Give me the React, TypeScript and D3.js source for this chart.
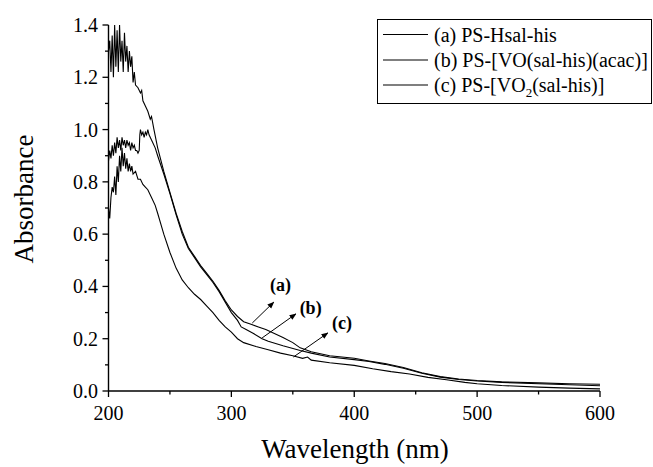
import React from "react";
import * as d3 from "d3";

// wavelength (nm) / absorbance
const wlA = [200, 201, 202, 203, 204, 205, 206, 207, 208, 209, 210, 211, 212, 213, 214, 215, 216, 217, 218, 219, 220, 221, 222, 224, 226, 227, 228, 230, 232, 234, 235, 237, 240, 245, 250, 255, 260, 265, 270, 275, 280, 285, 290, 295, 300, 305, 310, 316, 322, 328, 335, 342, 350, 356, 365, 380, 400, 412, 425, 440, 455, 470, 485, 500, 520, 550, 575, 600];
const absA = [1.30, 1.34, 1.22, 1.36, 1.20, 1.40, 1.24, 1.38, 1.22, 1.40, 1.26, 1.34, 1.22, 1.37, 1.26, 1.32, 1.22, 1.30, 1.24, 1.28, 1.18, 1.22, 1.17, 1.16, 1.14, 1.15, 1.11, 1.09, 1.07, 1.04, 1.05, 1.00, 0.93, 0.84, 0.76, 0.68, 0.61, 0.55, 0.515, 0.48, 0.45, 0.42, 0.385, 0.345, 0.31, 0.285, 0.265, 0.255, 0.245, 0.235, 0.22, 0.205, 0.185, 0.165, 0.15, 0.135, 0.125, 0.115, 0.105, 0.09, 0.07, 0.055, 0.046, 0.04, 0.035, 0.031, 0.028, 0.026];

const wlB = [200, 201, 202, 203, 204, 205, 206, 207, 208, 209, 210, 211, 212, 213, 214, 215, 216, 217, 218, 219, 220, 221, 222, 223, 224, 225, 225.5, 226, 227, 228, 229, 230, 231, 232, 233, 235, 238, 240, 245, 250, 255, 260, 265, 270, 275, 280, 285, 290, 295, 300, 305, 308, 312, 318, 325, 330, 342, 356, 365, 380, 400, 412, 425, 440, 455, 470, 485, 500, 520, 550, 575, 600];
const absB = [0.88, 0.92, 0.89, 0.94, 0.90, 0.95, 0.91, 0.97, 0.93, 0.96, 0.92, 0.97, 0.94, 0.96, 0.93, 0.96, 0.94, 0.95, 0.92, 0.95, 0.93, 0.94, 0.92, 0.92, 0.91, 0.92, 0.98, 1.0, 0.98, 0.99, 0.97, 0.99, 0.98, 1.0, 0.98, 0.96, 0.93, 0.90, 0.83, 0.755, 0.675, 0.60, 0.545, 0.51, 0.475, 0.445, 0.415, 0.38, 0.34, 0.30, 0.27, 0.245, 0.235, 0.22, 0.20, 0.19, 0.173, 0.155, 0.145, 0.13, 0.12, 0.113, 0.102, 0.087, 0.068, 0.053, 0.044, 0.038, 0.033, 0.028, 0.024, 0.020];

const wlC = [200, 201, 202, 203, 204, 205, 206, 207, 208, 209, 210, 211, 212, 213, 214, 215, 216, 217, 218, 219, 220, 222, 224, 226, 228, 230, 232, 235, 238, 240, 245, 250, 255, 260, 265, 270, 275, 280, 285, 290, 295, 300, 305, 310, 320, 330, 340, 350, 358, 362, 365, 380, 400, 415, 430, 445, 460, 475, 490, 500, 520, 550, 575, 600];
const absC = [0.70, 0.66, 0.74, 0.78, 0.76, 0.82, 0.75, 0.86, 0.80, 0.90, 0.84, 0.93, 0.86, 0.91, 0.85, 0.89, 0.84, 0.87, 0.84, 0.86, 0.83, 0.84, 0.81, 0.81, 0.79, 0.78, 0.77, 0.74, 0.71, 0.68, 0.60, 0.53, 0.47, 0.425, 0.395, 0.37, 0.35, 0.325, 0.30, 0.27, 0.245, 0.225, 0.20, 0.185, 0.17, 0.158, 0.145, 0.135, 0.125, 0.13, 0.118, 0.108, 0.098, 0.085, 0.074, 0.065, 0.052, 0.043, 0.033, 0.028, 0.021, 0.015, 0.011, 0.008];

const xTicks = [200, 300, 400, 500, 600];
const xMinor = [250, 350, 450, 550];
const yTicks = [0, 0.2, 0.4, 0.6, 0.8, 1.0, 1.2, 1.4];
const yMinor = [0.1, 0.3, 0.5, 0.7, 0.9, 1.1, 1.3];

// label text position and arrow (from -> to), data coords
const notes = [
  { label: "(a)", tx: 340, ty: 0.405, x1: 317, y1: 0.26, x2: 334.5, y2: 0.34 },
  { label: "(b)", tx: 364.5, ty: 0.317, x1: 325, y1: 0.203, x2: 352.5, y2: 0.295 },
  { label: "(c)", tx: 390, ty: 0.26, x1: 350.5, y1: 0.13, x2: 378.5, y2: 0.222 },
];

const font = "'Liberation Serif', 'Times New Roman', serif";

export default function App() {
  const width = 653;
  const height = 467;

  const x = d3.scaleLinear().domain([200, 600]).range([108.5, 600]);
  const y = d3.scaleLinear().domain([0, 1.4]).range([391, 25]);

  const path = (wl: number[], ab: number[]) =>
    d3
      .line<number>()
      .x((d) => x(d))
      .y((_, i) => y(ab[i]))(wl) || "";

  const series = [
    { wl: wlA, ab: absA },
    { wl: wlB, ab: absB },
    { wl: wlC, ab: absC },
  ];

  const x0 = x(200);
  const yBase = y(0);

  return (
    <svg
      width={width}
      height={height}
      style={{ position: "absolute", left: 0, top: 0, background: "#fff" }}
      fontFamily={font}
    >
      <defs>
        <marker id="arr" viewBox="0 0 10 10" refX="9" refY="5" markerWidth="7" markerHeight="7" orient="auto">
          <path d="M0,1 L10,5 L0,9 Z" fill="#000" />
        </marker>
      </defs>

      {/* curves */}
      {series.map((s, i) => (
        <path key={i} d={path(s.wl, s.ab)} fill="none" stroke="#000" strokeWidth={1.1} />
      ))}

      {/* axes */}
      <line x1={x0} x2={x(600)} y1={yBase} y2={yBase} stroke="#000" strokeWidth={1.4} />
      <line x1={x0} x2={x0} y1={yBase} y2={y(1.4)} stroke="#000" strokeWidth={1.4} />

      {xTicks.map((t) => (
        <g key={t}>
          <line x1={x(t)} x2={x(t)} y1={yBase} y2={yBase + 6} stroke="#000" strokeWidth={1.3} />
          <text x={x(t)} y={420} fontSize={20} textAnchor="middle">
            {t}
          </text>
        </g>
      ))}
      {xMinor.map((t) => (
        <line key={t} x1={x(t)} x2={x(t)} y1={yBase} y2={yBase + 3.5} stroke="#000" strokeWidth={1.3} />
      ))}

      {yTicks.map((t) => (
        <g key={t}>
          <line x1={x0 - 6} x2={x0} y1={y(t)} y2={y(t)} stroke="#000" strokeWidth={1.3} />
          <text x={98} y={y(t)} dy="0.35em" fontSize={20} textAnchor="end">
            {t.toFixed(1)}
          </text>
        </g>
      ))}
      {yMinor.map((t) => (
        <line key={t} x1={x0 - 3.5} x2={x0} y1={y(t)} y2={y(t)} stroke="#000" strokeWidth={1.3} />
      ))}

      {/* axis titles */}
      <text x={355} y={458} fontSize={27} textAnchor="middle">
        Wavelength (nm)
      </text>
      <text transform="translate(33,199) rotate(-90)" fontSize={27} textAnchor="middle">
        Absorbance
      </text>

      {/* annotations */}
      {notes.map((n) => (
        <g key={n.label}>
          <line
            x1={x(n.x1)}
            y1={y(n.y1)}
            x2={x(n.x2)}
            y2={y(n.y2)}
            stroke="#000"
            strokeWidth={1}
            markerEnd="url(#arr)"
          />
          <text x={x(n.tx)} y={y(n.ty)} dy="0.35em" fontSize={18} fontWeight="bold" textAnchor="middle">
            {n.label}
          </text>
        </g>
      ))}

      {/* legend */}
      <rect x={377.5} y={19.5} width={274} height={84} fill="#fff" stroke="#000" strokeWidth={1} />
      {[
        { t: <tspan>(a) PS-Hsal-his</tspan>, yy: 34.5 },
        { t: <tspan>(b) PS-[VO(sal-his)(acac)]</tspan>, yy: 60 },
        {
          t: (
            <>
              <tspan>(c) PS-[VO</tspan>
              <tspan fontSize={13} dy={5}>2</tspan>
              <tspan dy={-5}>(sal-his)]</tspan>
            </>
          ),
          yy: 85,
        },
      ].map((r, i) => (
        <g key={i}>
          <line x1={383} x2={428} y1={r.yy} y2={r.yy} stroke="#000" strokeWidth={1.1} />
          <text x={434} y={r.yy} dy="0.35em" fontSize={20}>
            {r.t}
          </text>
        </g>
      ))}
    </svg>
  );
}
